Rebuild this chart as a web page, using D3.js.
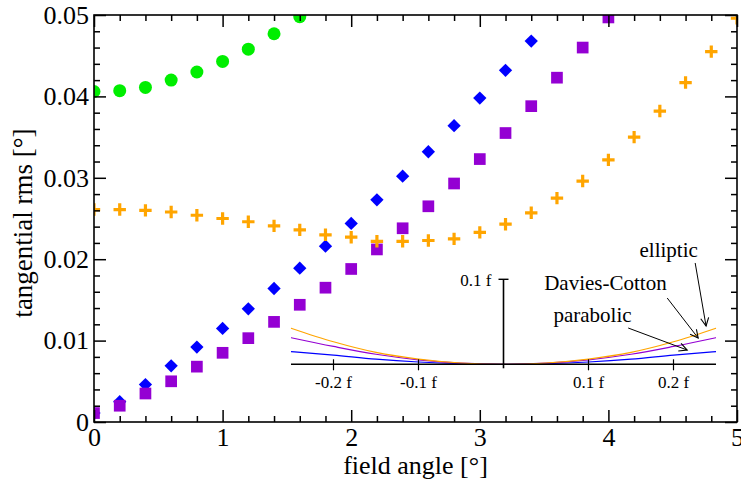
<!DOCTYPE html>
<html><head><meta charset="utf-8">
<script src="https://cdn.jsdelivr.net/npm/d3@7"></script>
<style>body{margin:0;background:#fff} svg{display:block}</style>
</head><body>
<svg id="c" width="741" height="480"></svg>
<script>
// ---- data ----
const fieldAngle = [0,0.2,0.4,0.6,0.8,1.0,1.2,1.4,1.6,1.8,2.0,2.2,2.4,2.6,2.8,3.0,3.2,3.4,3.6,3.8,4.0,4.2,4.4,4.6,4.8,5.0];
const greenRms  = [0.0406,0.0407,0.0411,0.0420,0.0430,0.0443,0.0458,0.0477,0.0498];
const blueRms   = [0.0011,0.0025,0.0046,0.0069,0.0092,0.0115,0.0139,0.0164,0.0189,0.0216,0.0244,0.0273,0.0302,0.0332,0.0364,0.0398,0.0432,0.0468];
const purpleRms = [0.0011,0.0020,0.0035,0.0050,0.0068,0.0085,0.0103,0.0123,0.0144,0.0165,0.0188,0.0212,0.0238,0.0265,0.0293,0.0323,0.0355,0.0388,0.0423,0.0460,0.0497];
const orangeRms = [0.0261,0.0261,0.0260,0.0258,0.0254,0.0250,0.0246,0.0241,0.0236,0.0230,0.0227,0.0222,0.0222,0.0223,0.0225,0.0233,0.0243,0.0257,0.0275,0.0296,0.0322,0.0350,0.0382,0.0417,0.0455,0.0496];

const xMajor = [0,1,2,3,4,5];
const xMajorLabels = ["0","1","2","3","4","5"];
const yMajor = [0,0.01,0.02,0.03,0.04,0.05];
const yMajorLabels = ["0","0.01","0.02","0.03","0.04","0.05"];
const xMinor = [0.2,0.4,0.6,0.8,1.2,1.4,1.6,1.8,2.2,2.4,2.6,2.8,3.2,3.4,3.6,3.8,4.2,4.4,4.6,4.8];
const yMinor = [0.002,0.004,0.006,0.008,0.012,0.014,0.016,0.018,0.022,0.024,0.026,0.028,0.032,0.034,0.036,0.038,0.042,0.044,0.046,0.048];

// inset: mirror profiles (units of f)
const insetX        = [-0.25,-0.2,-0.15,-0.1,-0.05,0,0.05,0.1,0.15,0.2,0.25];
const parabolicProf = [0.0150,0.0108,0.0060,0.0027,0.0007,0,0.0007,0.0027,0.0060,0.0108,0.0150];
const daviesProf    = [0.0313,0.0210,0.0118,0.0053,0.0013,0,0.0013,0.0053,0.0118,0.0210,0.0313];
const ellipticProf  = [0.0425,0.0265,0.0140,0.0062,0.0015,0,0.0015,0.0062,0.0140,0.0265,0.0425];
const insetTicks = [-0.2,-0.1,0.1,0.2];
const insetTickLabels = ["-0.2 f","-0.1 f","0.1 f","0.2 f"];
const insetYTick = 0.1, insetYTickLabel = "0.1 f";
const annLabels = ["elliptic","Davies-Cotton","parabolic"];

// ---- layout ----
const L = 94, R = 737, T = 15, B = 422;
const FONT = '"Liberation Serif"';
const svg = d3.select("#c");

const x = d3.scaleLinear().domain([0,5]).range([L,R]);
const y = d3.scaleLinear().domain([0,0.05]).range([B,T]);

const defs = svg.append("defs");
defs.append("clipPath").attr("id","clip")
  .append("rect").attr("x",L).attr("y",T).attr("width",R-L).attr("height",B-T);

// markers
const g = svg.append("g").attr("clip-path","url(#clip)");
g.selectAll(".gr").data(greenRms).enter().append("path")
  .attr("d", d3.symbol(d3.symbolCircle, Math.PI*6.5*6.5)())
  .attr("transform",(d,i)=>`translate(${x(fieldAngle[i])},${y(d)})`)
  .attr("fill","#00ee00");
g.selectAll(".bl").data(blueRms).enter().append("path")
  .attr("d", d3.symbol(d3.symbolSquare, 9.4*9.4)())
  .attr("transform",(d,i)=>`translate(${x(fieldAngle[i])},${y(d)}) rotate(45)`)
  .attr("fill","#0000ff");
g.selectAll(".pu").data(purpleRms).enter().append("path")
  .attr("d", d3.symbol(d3.symbolSquare, 11.7*11.7)())
  .attr("transform",(d,i)=>`translate(${x(fieldAngle[i])},${y(d)})`)
  .attr("fill","#9400d3");
const plusType = {draw(ctx,size){const r=Math.sqrt(size)/2;ctx.moveTo(-r,0);ctx.lineTo(r,0);ctx.moveTo(0,-r);ctx.lineTo(0,r);}};
g.selectAll(".or").data(orangeRms).enter().append("path")
  .attr("d", d3.symbol(plusType, 12.4*12.4)())
  .attr("transform",(d,i)=>`translate(${x(fieldAngle[i])},${y(d)})`)
  .attr("fill","none").attr("stroke","#ffa500").attr("stroke-width",3.2);

// axes
function styleAxis(sel){
  sel.attr("font-family",null).attr("font-size",null);
  sel.selectAll("path.domain").remove();
  sel.selectAll("line").attr("stroke","#000").attr("stroke-width",1.5);
  sel.selectAll("text").style("font-family",FONT).style("font-size","26px").attr("fill","#000");
}
const fmtX = (d)=>xMajorLabels[xMajor.indexOf(d)];
const fmtY = (d)=>yMajorLabels[yMajor.indexOf(d)];
svg.append("g").attr("transform",`translate(0,${B})`)
  .call(d3.axisBottom(x).tickValues(xMajor).tickFormat(fmtX).tickSize(-12).tickPadding(6)).call(styleAxis);
svg.append("g").attr("transform",`translate(0,${B})`)
  .call(d3.axisBottom(x).tickValues(xMinor).tickFormat("").tickSize(-6)).call(styleAxis);
svg.append("g").attr("transform",`translate(0,${T})`)
  .call(d3.axisTop(x).tickValues(xMajor).tickFormat("").tickSize(-12)).call(styleAxis);
svg.append("g").attr("transform",`translate(0,${T})`)
  .call(d3.axisTop(x).tickValues(xMinor).tickFormat("").tickSize(-6)).call(styleAxis);
svg.append("g").attr("transform",`translate(${L},0)`)
  .call(d3.axisLeft(y).tickValues(yMajor).tickFormat(fmtY).tickSize(-12).tickPadding(5)).call(styleAxis);
svg.append("g").attr("transform",`translate(${L},0)`)
  .call(d3.axisLeft(y).tickValues(yMinor).tickFormat("").tickSize(-6)).call(styleAxis);
svg.append("g").attr("transform",`translate(${R},0)`)
  .call(d3.axisRight(y).tickValues(yMajor).tickFormat("").tickSize(-12)).call(styleAxis);
svg.append("g").attr("transform",`translate(${R},0)`)
  .call(d3.axisRight(y).tickValues(yMinor).tickFormat("").tickSize(-6)).call(styleAxis);

svg.append("rect").attr("x",L).attr("y",T).attr("width",R-L).attr("height",B-T)
  .attr("fill","none").attr("stroke","#000").attr("stroke-width",1.6);

// titles
svg.append("text").attr("x",(L+R)/2).attr("y",474).attr("text-anchor","middle")
  .style("font-family",FONT).style("font-size","26px").text("field angle [°]");
svg.append("text").attr("transform","translate(32,223) rotate(-90)").attr("text-anchor","middle")
  .style("font-family",FONT).style("font-size","27px").text("tangential rms [°]");

// ---- inset ----
const ix = d3.scaleLinear().domain([-0.25,0.25]).range([291,716]);
const iy = d3.scaleLinear().domain([0,0.1]).range([364.3,279.3]);
const ins = svg.append("g");
const line = d3.line().x((d,i)=>ix(insetX[i])).y(d=>iy(d)).curve(d3.curveMonotoneX);
[[parabolicProf,"#0000ff"],[daviesProf,"#9400d3"],[ellipticProf,"#ffa500"]].forEach(([arr,c])=>{
  ins.append("path").attr("d",line(arr)).attr("fill","none").attr("stroke",c).attr("stroke-width",1.2);
});
ins.append("line").attr("x1",ix(-0.25)).attr("x2",ix(0.25)).attr("y1",iy(0)).attr("y2",iy(0))
  .attr("stroke","#000").attr("stroke-width",1.6);
ins.append("line").attr("x1",ix(0)).attr("x2",ix(0)).attr("y1",iy(0)+4).attr("y2",iy(insetYTick))
  .attr("stroke","#000").attr("stroke-width",1.6);
ins.append("line").attr("x1",ix(0)-5).attr("x2",ix(0)+5).attr("y1",iy(insetYTick)).attr("y2",iy(insetYTick))
  .attr("stroke","#000").attr("stroke-width",1.4);
ins.append("text").attr("x",ix(0)-12).attr("y",iy(insetYTick)+6.5).attr("text-anchor","end")
  .style("font-family",FONT).style("font-size","17px").text(insetYTickLabel);
insetTicks.forEach((t,i)=>{
  ins.append("line").attr("x1",ix(t)).attr("x2",ix(t)).attr("y1",iy(0)-5).attr("y2",iy(0)+6)
    .attr("stroke","#000").attr("stroke-width",1.2);
  ins.append("text").attr("x",ix(t)).attr("y",388).attr("text-anchor","middle")
    .style("font-family",FONT).style("font-size","17px").text(insetTickLabels[i]);
});

// annotations (inset data coords)
const annText = [[0.160,0.1266],[0.0479,0.0874],[0.0588,0.0498]];
const annArrow = [[0.2255,0.1192,0.2383,0.0451],[0.1926,0.0780,0.2290,0.0309],[0.1467,0.0427,0.2161,0.0168]];
defs.append("marker").attr("id","ah").attr("markerUnits","userSpaceOnUse")
  .attr("markerWidth",12).attr("markerHeight",12).attr("refX",9).attr("refY",5).attr("orient","auto")
  .append("path").attr("d","M1,1 L9,5 L1,9").attr("fill","none").attr("stroke","#000").attr("stroke-width",1.1);
annLabels.forEach((lab,i)=>{
  ins.append("text").attr("x",ix(annText[i][0])).attr("y",iy(annText[i][1]))
    .style("font-family",FONT).style("font-size","21px").text(lab);
  const a = annArrow[i];
  ins.append("line").attr("x1",ix(a[0])).attr("y1",iy(a[1])).attr("x2",ix(a[2])).attr("y2",iy(a[3]))
    .attr("stroke","#000").attr("stroke-width",1).attr("marker-end","url(#ah)");
});
</script>
</body></html>
